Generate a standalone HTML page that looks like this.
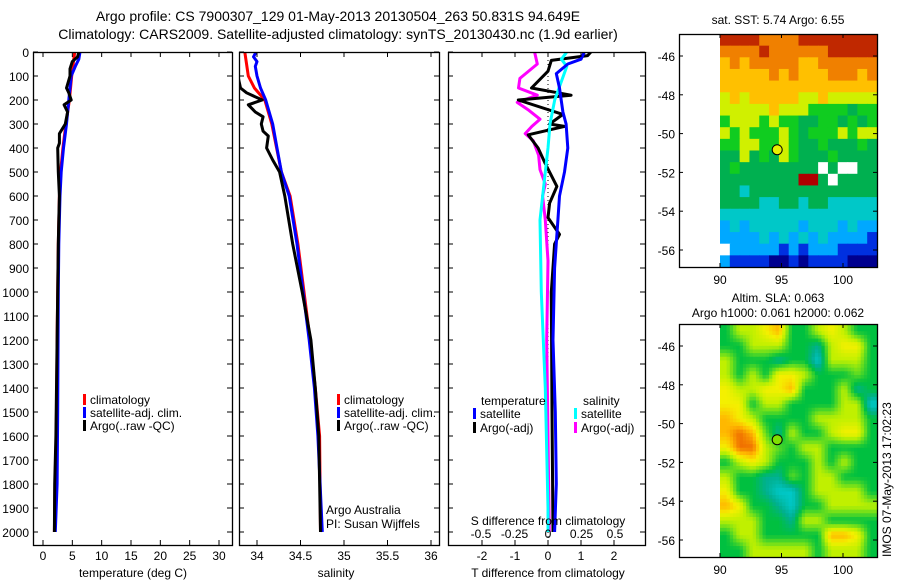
<!DOCTYPE html>
<html><head><meta charset="utf-8">
<style>
html,body{margin:0;padding:0;background:#fff;}
svg{display:block;font-family:"Liberation Sans",sans-serif;}
text{fill:#000;}
</style></head>
<body>
<svg id="fig" width="900" height="580" viewBox="0 0 900 580" xmlns="http://www.w3.org/2000/svg">
<text x="338" y="21" font-size="14" text-anchor="middle">Argo profile: CS 7900307_129 01-May-2013 20130504_263 50.831S 94.649E</text>
<text x="338" y="39" font-size="14" text-anchor="middle">Climatology: CARS2009. Satellite-adjusted climatology: synTS_20130430.nc (1.9d earlier)</text>
<text x="778" y="24" font-size="12" text-anchor="middle">sat. SST: 5.74 Argo: 6.55</text>
<text x="778" y="302" font-size="12" text-anchor="middle">Altim. SLA: 0.063</text>
<text x="778" y="317" font-size="12" text-anchor="middle">Argo h1000: 0.061 h2000: 0.062</text>
<text x="0" y="0" font-size="12" transform="translate(891,557) rotate(-90)">IMOS 07-May-2013 17:02:23</text>
<g id="g"></g>
</svg>
<script>
// ---------- profile data ----------
const tempClimDepth=[0,100,200,300,400,500,600,800,1000,1200,1400,1600,1800,2000];
const tempClim=[5.4,4.9,4.5,3.9,3.4,3.0,2.8,2.6,2.5,2.4,2.35,2.25,2.05,1.95];
const tempSatDepth=[0,30,60,100,200,300,400,500,600,800,1000,1500,1800,2000];
const tempSat=[6.3,6.1,5.5,4.8,4.4,4.0,3.5,3.1,2.9,2.7,2.6,2.5,2.4,2.1];
const tempArgoDepth=[0,20,40,70,100,150,170,200,220,250,300,340,380,400,500,600,700,800,1000,1200,1400,1600,1800,2000];
const tempArgo=[6.1,5.9,5.0,4.6,4.6,4.0,4.4,4.8,3.6,4.2,3.8,2.8,2.8,2.5,2.6,2.8,2.7,2.6,2.5,2.4,2.3,2.2,2.0,1.95];

const salClimDepth=[0,100,150,200,300,500,600,800,1000,1200,1400,1600,2000];
const salClim=[33.86,33.9,33.97,34.09,34.17,34.28,34.38,34.47,34.54,34.61,34.67,34.72,34.73];
const salSatDepth=[0,20,40,60,100,150,200,300,400,500,600,800,1000,1200,1400,1600,2000];
const salSat=[33.99,33.96,34.0,33.98,34.0,34.04,34.1,34.18,34.23,34.28,34.37,34.46,34.53,34.6,34.66,34.7,34.75];
const salArgoDepth=[0,100,150,170,200,220,250,270,300,330,350,400,450,500,600,800,1000,1200,1400,1600,2000];
const salArgo=[33.75,33.78,33.81,33.88,34.06,33.9,33.98,34.07,34.05,34.07,34.13,34.11,34.18,34.26,34.32,34.41,34.52,34.62,34.67,34.71,34.73];

const tDiffSatDepth=[0,30,50,90,150,250,300,400,500,600,700,900,1200,1500,1800,2000];
const tDiffSat=[1.1,1.0,0.6,0.25,0.35,0.45,0.55,0.6,0.5,0.35,0.3,0.2,0.15,0.22,0.25,0.2];
const tDiffArgoDepth=[0,15,35,80,150,180,200,260,300,310,345,400,460,560,630,690,760,800,1000,1500,2000];
const tDiffArgo=[1.3,1.2,0.1,0,-0.5,0.7,-0.9,0.45,0.05,0.5,-0.6,-0.3,-0.1,0.27,0.05,0,0.35,0.2,0.1,0.12,0.15];
const sDiffSatDepth=[0,30,60,200,300,400,500,700,1000,1400,1900,2000];
const sDiffSat=[0.14,0.1,0.14,0.05,0.015,0.0,-0.02,-0.06,-0.05,-0.02,0.0,0.0];
const sDiffArgoDepth=[0,50,110,150,180,210,240,280,310,340,370,430,490,550,600,700,870,1200,1600,2000];
const sDiffArgo=[-0.1,-0.08,-0.21,-0.22,-0.08,-0.23,-0.15,-0.06,-0.12,-0.17,-0.11,-0.07,-0.06,-0.02,-0.04,-0.02,0,-0.01,0.0,0.01];

const depthTicks=[0,100,200,300,400,500,600,700,800,900,1000,1100,1200,1300,1400,1500,1600,1700,1800,1900,2000];
const tempTicks=[0,5,10,15,20,25,30];
const salTicks=[34,34.5,35,35.5,36];
const salTickLabels=["34","34.5","35","35.5","36"];
const tDiffTicks=[-2,-1,0,1,2];
const sDiffTicks=[-0.5,-0.25,0,0.25,0.5];
const sDiffTickLabels=["-0.5","-0.25","0","0.25","0.5"];

// ---------- map data ----------
const lonTicks=[90,95,100];
const latTicks=[-46,-48,-50,-52,-54,-56];
const sstRows=[
"9999888899999999",
"8888988888899999",
"7878888877888888",
"7777787877788878",
"7777777777777777",
"6767777766766666",
"6666676665555455",
"5666565544554545",
"6565556545556566",
"5566556544544454",
"4464546544454444",
"4544444444w4ww44",
"44444444rr4w4444",
"4434444444444444",
"4444334434433333",
"3333333333333333",
"2323333323332322",
"2222323232322221",
"w222221212221111",
"2111100101111000"];
const slaRows=[
"244562245422",
"224442214552",
"422212204442",
"424255422232",
"544556222412",
"552442222440",
"654222244442",
"676314224552",
"577432442222",
"245422242422",
"422113244222",
"522100244442",
"652210224444",
"444221442222",
"244222226652",
"224444424442"];
const argoLon=94.65, argoLat=-50.83;

const NS="http://www.w3.org/2000/svg";
const G=document.getElementById('g');
function mk(tag,attrs,parent){const e=document.createElementNS(NS,tag);for(const k in attrs)e.setAttribute(k,attrs[k]);(parent||G).appendChild(e);return e;}
function lin(d0,d1,r0,r1){return v=>r0+(v-d0)*(r1-r0)/(d1-d0);}

const TOP=52,BOT=545;
const yD=lin(0,2000,52,532);
const panels=[
 {name:'temperature-panel',x0:33,x1:232},
 {name:'salinity-panel',x0:239,x1:439},
 {name:'difference-panel',x0:448,x1:645}];
const xT=lin(0,30,43,219);
const xS=lin(34,36,257,431);
const xTd=lin(0,2,548,614);
const xSd=lin(0,0.5,548,615);

const defs=mk('defs',{});
panels.forEach((p,i)=>{const c=mk('clipPath',{id:'c'+i},defs);mk('rect',{x:p.x0,y:TOP,width:p.x1-p.x0,height:BOT-TOP},c);});

function series(depths,vals,xf,color,clip,name,w){
  const pts=depths.map((d,i)=>xf(vals[i]).toFixed(1)+','+yD(d).toFixed(1)).join(' ');
  const e=mk('polyline',{points:pts,fill:'none',stroke:color,'stroke-width':w||3,'clip-path':'url(#c'+clip+')','stroke-linejoin':'round'});
  
  
}
const zl=mk('line',{x1:548,x2:548,y1:TOP,y2:BOT,stroke:'#000','stroke-width':1,'stroke-dasharray':'1,3'});



series(tempClimDepth,tempClim,xT,'#ff0000',0,'temp-climatology-line');
series(tempSatDepth,tempSat,xT,'#0000ff',0,'temp-satellite-line');
series(tempArgoDepth,tempArgo,xT,'#000000',0,'temp-argo-line');
series(salClimDepth,salClim,xS,'#ff0000',1,'sal-climatology-line');
series(salSatDepth,salSat,xS,'#0000ff',1,'sal-satellite-line');
series(salArgoDepth,salArgo,xS,'#000000',1,'sal-argo-line');
series(sDiffArgoDepth,sDiffArgo,xSd,'#ff00ff',2,'sdiff-argo-line');
series(tDiffArgoDepth,tDiffArgo,xTd,'#000000',2,'tdiff-argo-line');
series(sDiffSatDepth,sDiffSat,xSd,'#00ffff',2,'sdiff-satellite-line');
series(tDiffSatDepth,tDiffSat,xTd,'#0000ff',2,'tdiff-satellite-line');

panels.forEach((p,i)=>{
  const r=mk('rect',{x:p.x0+0.5,y:TOP+0.5,width:p.x1-p.x0,height:BOT-TOP,fill:'none',stroke:'#000','stroke-width':1.3});
  
  
  depthTicks.forEach(d=>{
    const y=yD(d);
    mk('line',{x1:p.x0,x2:p.x0+5,y1:y,y2:y,stroke:'#000'});
    mk('line',{x1:p.x1-5,x2:p.x1,y1:y,y2:y,stroke:'#000'});
  });
});
depthTicks.forEach(d=>{
  const t=mk('text',{x:29,y:yD(d)+5,'font-size':12,'text-anchor':'end'});
  t.textContent=d;
  
  
});
function xticks(ticks,labels,xf,p,ly,name,inside){
  ticks.forEach((v,i)=>{
    const x=xf(v);
    if(!inside){mk('line',{x1:x,x2:x,y1:BOT-5,y2:BOT,stroke:'#000'});mk('line',{x1:x,x2:x,y1:TOP,y2:TOP+5,stroke:'#000'});}
    const t=mk('text',{x:x,y:ly,'font-size':12,'text-anchor':'middle'});
    t.textContent=labels?labels[i]:v;
    
    
  });
}
xticks(tempTicks,null,xT,panels[0],560,'temp-tick-label');
xticks(salTicks,salTickLabels,xS,panels[1],560,'sal-tick-label');
xticks(tDiffTicks,null,xTd,panels[2],560,'tdiff-tick-label');
xticks(sDiffTicks,sDiffTickLabels,xSd,panels[2],538,'sdiff-tick-label',true);

function label(x,y,txt,name,anchor,size){
  const t=mk('text',{x:x,y:y,'font-size':size||12,'text-anchor':anchor||'start'});
  t.textContent=txt;
  
  
}
label(133,577,'temperature (deg C)','temp-axis-title','middle');
label(336,577,'salinity','sal-axis-title','middle');
label(548,577,'T difference from climatology','tdiff-axis-title','middle');
label(548,525,'S difference from climatology','sdiff-axis-title','middle');
label(326,514,'Argo Australia','argo-australia-label');
label(326,528,'PI: Susan Wijffels','pi-label');

function legend(x,y,color,txt,name){
  const r=mk('rect',{x:x,y:y-10,width:3,height:11,fill:color});
  
  
  label(x+7,y,txt,name);
}
legend(83,404,'#ff0000','climatology','legend-climatology');
legend(83,417,'#0000ff','satellite-adj. clim.','legend-satellite-adj');
legend(83,430,'#000000','Argo(..raw -QC)','legend-argo');
legend(337,404,'#ff0000','climatology','legend2-climatology');
legend(337,417,'#0000ff','satellite-adj. clim.','legend2-satellite-adj');
legend(337,430,'#000000','Argo(..raw -QC)','legend2-argo');
label(481,405,'temperature','legend-temperature-heading');
legend(473,418,'#0000ff','satellite','legend-t-satellite');
legend(473,432,'#000000','Argo(-adj)','legend-t-argo');
label(583,405,'salinity','legend-salinity-heading');
legend(574,418,'#00ffff','satellite','legend-s-satellite');
legend(574,432,'#ff00ff','Argo(-adj)','legend-s-argo');

// ---------- maps ----------
const sstPal={'0':'#00008f','1':'#0030e0','2':'#00a8ff','3':'#00c8c8','4':'#00b050','5':'#10cc20','6':'#d0f000','7':'#ffc000','8':'#f08000','9':'#c02800','r':'#b00000','w':'#ffffff'};
const slaStops=[[0,200,200],[0,176,144],[0,192,64],[96,220,32],[192,240,0],[244,240,0],[255,184,0],[240,112,0]];
function slaColor(v){v=Math.max(0,Math.min(7,v));const i=Math.min(6,Math.floor(v)),f=v-i;const a=slaStops[i],b=slaStops[i+1];
  return 'rgb('+a.map((c,k)=>Math.round(c+(b[k]-c)*f)).join(',')+')';}
function mapFrame(top,name){
  const fx0=679,fx1=877,fy0=top,fy1=top+233;
  const xL=lin(90,100,720,843);
  const yL=lin(-46,-56,top+22,top+216);
  const f=mk('rect',{x:fx0+0.5,y:fy0+0.5,width:fx1-fx0,height:fy1-fy0,fill:'none',stroke:'#000','stroke-width':1.3});
  
  
  lonTicks.forEach(v=>{const x=xL(v);mk('line',{x1:x,x2:x,y1:fy0,y2:fy0+4,stroke:'#000'});mk('line',{x1:x,x2:x,y1:fy1-4,y2:fy1,stroke:'#000'});
    label(x,fy1+17,String(v),'lon-tick-label','middle');});
  latTicks.forEach(v=>{const y=yL(v);mk('line',{x1:fx0,x2:fx0+4,y1:y,y2:y,stroke:'#000'});mk('line',{x1:fx1-4,x2:fx1,y1:y,y2:y,stroke:'#000'});
    label(fx0-4,y+5,String(v),'lat-tick-label','end');});
  return [xL,yL];
}
// SST map (blocky)
(function(){
  const top=34,nc=sstRows[0].length,nr=sstRows.length,cw=(877-720)/nc,ch=233/nr;
  const g=mk('g',{});
  
  
  sstRows.forEach((row,ri)=>{for(let ci=0;ci<nc;ci++){
    const c=mk('rect',{x:(720+ci*cw).toFixed(2),y:(top+ri*ch).toFixed(2),width:(cw+0.6).toFixed(2),height:(ch+0.6).toFixed(2),fill:sstPal[row[ci]]},g);
    
    
  }});
})();
const [mx1,my1]=mapFrame(34,'sst-map');
const m1=mk('circle',{cx:mx1(argoLon),cy:my1(argoLat),r:5,fill:'#e8f000',stroke:'#000','stroke-width':1});


// SLA map (smoothed bilinear)
(function(){
  const top=324,nc=slaRows[0].length,nr=slaRows.length,S=4;
  const NC=nc*S,NR=nr*S,cw=(877-720)/NC,ch=233/NR;
  const val=(r,c)=>+slaRows[Math.max(0,Math.min(nr-1,r))][Math.max(0,Math.min(nc-1,c))];
  const g=mk('g',{});
  
  
  for(let R=0;R<NR;R++)for(let C=0;C<NC;C++){
    const fr=(R+0.5)/S-0.5,fc=(C+0.5)/S-0.5;
    const r0=Math.floor(fr),c0=Math.floor(fc),dr=fr-r0,dc=fc-c0;
    const v=val(r0,c0)*(1-dr)*(1-dc)+val(r0,c0+1)*(1-dr)*dc+val(r0+1,c0)*dr*(1-dc)+val(r0+1,c0+1)*dr*dc;
    const c=mk('rect',{x:(720+C*cw).toFixed(2),y:(top+R*ch).toFixed(2),width:(cw+0.5).toFixed(2),height:(ch+0.5).toFixed(2),fill:slaColor(v)},g);
    
    
  }
})();
const [mx2,my2]=mapFrame(324,'sla-map');
const m2=mk('circle',{cx:mx2(argoLon),cy:my2(argoLat),r:5,fill:'#80e000',stroke:'#000','stroke-width':1});


</script>
</body></html>
